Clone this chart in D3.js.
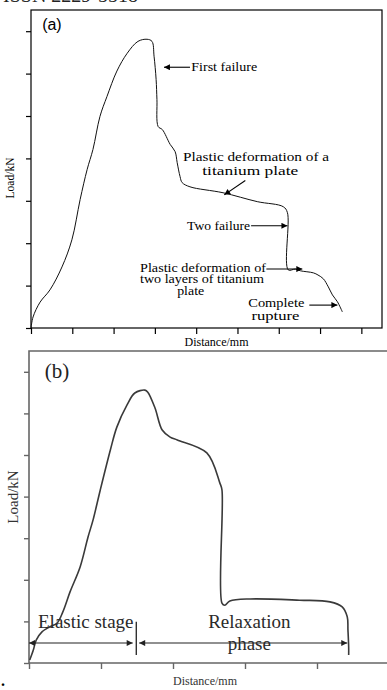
<!DOCTYPE html>
<html>
<head>
<meta charset="utf-8">
<script src="https://cdn.jsdelivr.net/npm/d3@7"></script>
<style>
  body { margin: 0; background: #fff; }
  text { font-family: "Liberation Serif", "Times New Roman", serif; }
</style>
</head>
<body>
<div id="chart"></div>
<script>
// (a) load vs distance
var distA = [0, 0.05, 0.22, 0.46, 0.75, 0.99, 1.19, 1.36, 1.50, 1.67, 1.84, 2.08, 2.33, 2.59, 2.81, 2.93, 2.98, 3.03, 3.05, 3.08,
  3.18, 3.37, 3.49, 3.54, 3.61, 3.66, 3.85, 4.65, 5.48, 6.11, 6.21, 6.23, 6.40, 6.52, 6.84, 6.95, 7.08, 7.20, 7.30, 7.42, 7.54];
var loadA = [0, 0.26, 0.61, 0.90, 1.44, 2.08, 3.03, 3.74, 4.21, 4.99, 5.46, 6.06, 6.48, 6.76, 6.81, 6.76, 6.41, 5.86, 5.39, 4.75,
  4.68, 4.33, 4.16, 3.90, 3.57, 3.43, 3.33, 3.19, 2.98, 2.86, 2.72, 1.37, 1.39, 1.35, 1.30, 1.25, 1.16, 0.97, 0.78, 0.62, 0.38];

// (b) load vs distance
var distB = [0.01, 0.06, 0.10, 0.18, 0.29, 0.39, 0.47, 0.57, 0.71, 0.82, 0.89, 0.99, 1.13, 1.22, 1.36, 1.47, 1.61, 1.65, 1.75, 1.85,
  1.96, 2.06, 2.47, 2.65, 2.68, 2.68, 2.72, 2.79, 3.07, 3.76, 4.18, 4.35, 4.42, 4.43, 4.44, 4.44];
var loadB = [0.07, 0.31, 0.55, 0.75, 0.87, 0.96, 1.23, 1.71, 2.31, 3.03, 3.44, 4.16, 5.12, 5.67, 6.20, 6.49, 6.56, 6.51, 6.13, 5.60,
  5.43, 5.36, 5.05, 4.33, 4.16, 1.44, 1.39, 1.49, 1.54, 1.51, 1.47, 1.35, 1.11, 0.79, 0.38, 0.19];

var xTicksA = [0, 1, 2, 3, 4, 5, 6, 7, 8];
var yTicks = [0, 1, 2, 3, 4, 5, 6, 7];
var xTicksB = [0, 1, 2, 3, 4];

// annotations, in data units (w = printed width in px, the original type is a bit stretched)
var notesA = [
  { t: "First failure", x: 3.88, y: 6.05, a: "start", w: 66 },
  { t: "Plastic deformation of a", x: 5.45, y: 3.95, a: "middle", w: 146 },
  { t: "titanium plate", x: 5.31, y: 3.62, a: "middle", w: 96 },
  { t: "Two failure", x: 3.78, y: 2.32, a: "start", w: 63 },
  { t: "Plastic deformation of", x: 2.64, y: 1.33, a: "start", w: 126 },
  { t: "two layers of titanium", x: 2.64, y: 1.05, a: "start", w: 124 },
  { t: "plate", x: 3.54, y: 0.77, a: "start", w: 27 },
  { t: "Complete", x: 5.94, y: 0.50, a: "middle", w: 56 },
  { t: "rupture", x: 5.92, y: 0.18, a: "middle", w: 48 }
];
var arrowsA = [
  [3.85, 6.15, 3.22, 6.15],
  [5.19, 3.48, 4.68, 3.14],
  [5.33, 2.41, 6.21, 2.41],
  [5.70, 1.39, 6.57, 1.39],
  [6.74, 0.54, 7.42, 0.54]
];
var notesB = [
  { t: "Elastic stage", x: 0.125, y: 0.84, a: "start" },
  { t: "Relaxation", x: 3.06, y: 0.84, a: "middle" },
  { t: "phase", x: 3.06, y: 0.31, a: "middle" }
];
var arrowsB = [
  [0, 0.48, 1.44, 0.48],
  [1.53, 0.48, 4.42, 0.48]
];

var svg = d3.select("#chart").append("svg")
  .attr("width", 387)
  .attr("height", 690);

var defs = svg.append("defs");
defs.append("marker")
  .attr("id", "head")
  .attr("markerUnits", "userSpaceOnUse")
  .attr("viewBox", "0 0 10 10")
  .attr("refX", 10).attr("refY", 5)
  .attr("markerWidth", 8).attr("markerHeight", 6)
  .attr("orient", "auto-start-reverse")
  .append("path").attr("d", "M0,0L10,5L0,10Z").attr("fill", "#000");
defs.append("marker")
  .attr("id", "headB")
  .attr("markerUnits", "userSpaceOnUse")
  .attr("viewBox", "0 0 10 10")
  .attr("refX", 10).attr("refY", 5)
  .attr("markerWidth", 8).attr("markerHeight", 6)
  .attr("orient", "auto-start-reverse")
  .append("path").attr("d", "M0,0L10,5L0,10Z").attr("fill", "#222");

// journal header, cut off at the top
svg.append("text")
  .attr("x", 3).attr("y", 2)
  .attr("font-size", 20)
  .attr("fill", "#222")
  .text("ISSN 2229-5518");

// ---------- panel (a) ----------
var xA = d3.scaleLinear().domain([0, 8.5]).range([31, 382]);
var yA = d3.scaleLinear().domain([0, 7.5]).range([328, 10]);

var gA = svg.append("g");

gA.append("rect")
  .attr("x", xA(0)).attr("y", yA(7.5))
  .attr("width", xA(8.5) - xA(0)).attr("height", yA(0) - yA(7.5))
  .attr("fill", "none").attr("stroke", "#000").attr("stroke-width", 1.2);

gA.append("g")
  .attr("transform", "translate(0," + yA(0) + ")")
  .call(d3.axisBottom(xA).tickValues(xTicksA).tickFormat("").tickSize(6).tickSizeOuter(0))
  .call(function (g) { g.select(".domain").remove(); g.selectAll("line").attr("stroke", "#000").attr("stroke-width", 1.2); });

gA.append("g")
  .attr("transform", "translate(" + xA(0) + ",0)")
  .call(d3.axisLeft(yA).tickValues(yTicks).tickFormat("").tickSize(5).tickSizeOuter(0))
  .call(function (g) { g.select(".domain").remove(); g.selectAll("line").attr("stroke", "#000").attr("stroke-width", 1.2); });

var lineA = d3.line()
  .x(function (d) { return xA(d[0]); })
  .y(function (d) { return yA(d[1]); })
  .curve(d3.curveCatmullRom.alpha(0.5));

gA.append("path")
  .datum(d3.zip(distA, loadA))
  .attr("d", lineA)
  .attr("fill", "none")
  .attr("stroke", "#111")
  .attr("stroke-width", 1);

gA.append("text")
  .attr("x", xA(0.27)).attr("y", yA(7.02))
  .attr("font-size", 16)
  .style("font-family", "'Liberation Sans', Arial, sans-serif")
  .text("(a)");

gA.selectAll("text.note")
  .data(notesA)
  .enter().append("text")
  .attr("class", "note")
  .attr("x", function (d) { return xA(d.x); })
  .attr("y", function (d) { return yA(d.y); })
  .attr("text-anchor", function (d) { return d.a; })
  .attr("font-size", 12.5)
  .attr("textLength", function (d) { return d.w; })
  .attr("lengthAdjust", "spacingAndGlyphs")
  .text(function (d) { return d.t; });

gA.selectAll("line.arrow")
  .data(arrowsA)
  .enter().append("line")
  .attr("class", "arrow")
  .attr("x1", function (d) { return xA(d[0]); })
  .attr("y1", function (d) { return yA(d[1]); })
  .attr("x2", function (d) { return xA(d[2]); })
  .attr("y2", function (d) { return yA(d[3]); })
  .attr("stroke", "#000")
  .attr("stroke-width", 1.1)
  .attr("marker-end", "url(#head)");

gA.append("text")
  .attr("x", (xA(0) + xA(8.5)) / 2 + 10).attr("y", 346)
  .attr("text-anchor", "middle")
  .attr("font-size", 12)
  .text("Distance/mm");

gA.append("text")
  .attr("transform", "translate(14,178) rotate(-90)")
  .attr("text-anchor", "middle")
  .attr("font-size", 11.5)
  .text("Load/kN");

// ---------- panel (b) ----------
var xB = d3.scaleLinear().domain([0, 5]).range([29, 389]);
var yB = d3.scaleLinear().domain([0, 7.5]).range([663, 351]);

var gB = svg.append("g");

gB.append("path")
  .attr("d", "M" + xB(5) + "," + yB(7.5) + "H" + xB(0) + "V" + yB(0) + "H" + xB(5))
  .attr("fill", "none").attr("stroke", "#666").attr("stroke-width", 1.6);

gB.append("g")
  .attr("transform", "translate(0," + yB(0) + ")")
  .call(d3.axisBottom(xB).tickValues(xTicksB).tickFormat("").tickSize(6).tickSizeOuter(0))
  .call(function (g) { g.select(".domain").remove(); g.selectAll("line").attr("stroke", "#666").attr("stroke-width", 1.4); });

gB.append("g")
  .attr("transform", "translate(" + xB(0) + ",0)")
  .call(d3.axisLeft(yB).tickValues(yTicks).tickFormat("").tickSize(5).tickSizeOuter(0))
  .call(function (g) { g.select(".domain").remove(); g.selectAll("line").attr("stroke", "#666").attr("stroke-width", 1.4); });

var lineB = d3.line()
  .x(function (d) { return xB(d[0]); })
  .y(function (d) { return yB(d[1]); })
  .curve(d3.curveCatmullRom.alpha(0.5));

gB.append("path")
  .datum(d3.zip(distB, loadB))
  .attr("d", lineB)
  .attr("fill", "none")
  .attr("stroke", "#3a3a3a")
  .attr("stroke-width", 1.6);

gB.append("text")
  .attr("x", xB(0.22)).attr("y", yB(6.85))
  .attr("font-size", 21)
  .attr("fill", "#222")
  .text("(b)");

gB.selectAll("line.arrow")
  .data(arrowsB)
  .enter().append("line")
  .attr("class", "arrow")
  .attr("x1", function (d) { return xB(d[0]); })
  .attr("y1", function (d) { return yB(d[1]); })
  .attr("x2", function (d) { return xB(d[2]); })
  .attr("y2", function (d) { return yB(d[3]); })
  .attr("stroke", "#222")
  .attr("stroke-width", 1.1)
  .attr("marker-start", "url(#headB)")
  .attr("marker-end", "url(#headB)");

// stage separator
gB.append("line")
  .attr("x1", xB(1.49)).attr("x2", xB(1.49))
  .attr("y1", yB(0.99)).attr("y2", yB(0.19))
  .attr("stroke", "#222").attr("stroke-width", 1.3);

gB.selectAll("text.note")
  .data(notesB)
  .enter().append("text")
  .attr("class", "note")
  .attr("x", function (d) { return xB(d.x); })
  .attr("y", function (d) { return yB(d.y); })
  .attr("text-anchor", function (d) { return d.a; })
  .attr("font-size", 19)
  .attr("fill", "#2a2a2a")
  .text(function (d) { return d.t; });

gB.append("text")
  .attr("x", 205).attr("y", 685)
  .attr("text-anchor", "middle")
  .attr("font-size", 12)
  .attr("fill", "#333")
  .text("Distance/mm");

gB.append("text")
  .attr("transform", "translate(18,497) rotate(-90)")
  .attr("text-anchor", "middle")
  .attr("font-size", 15)
  .attr("fill", "#333")
  .text("Load/kN");

svg.append("text")
  .attr("x", 1).attr("y", 686)
  .attr("font-size", 16)
  .attr("font-weight", "bold")
  .text(".");
</script>
</body>
</html>
